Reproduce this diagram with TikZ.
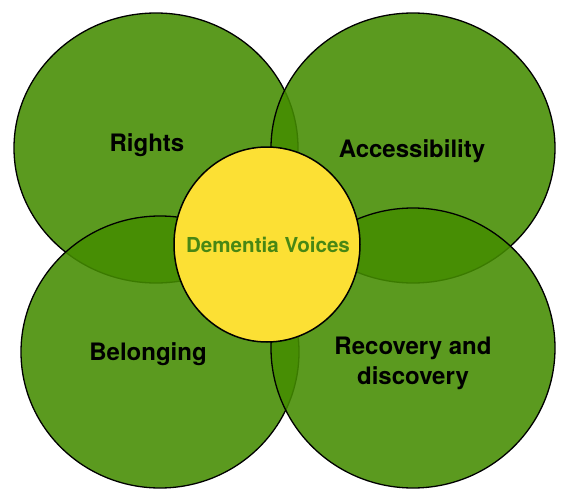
\documentclass[tikz,border=0pt]{standalone}
\usepackage{fontspec}
\setmainfont{TeX Gyre Heros}
\usetikzlibrary{shapes.geometric}
\definecolor{leaf}{RGB}{68,140,0}
\definecolor{sun}{RGB}{252,224,52}
\definecolor{voicegreen}{RGB}{72,135,20}
\tikzset{
	bigcircle/.style={ellipse, draw=black, line width=1.3pt, fill=leaf, fill opacity=.88, inner sep=0pt},
	hubcircle/.style={ellipse, draw=black, line width=1.5pt, fill=sun, inner sep=0pt},
	labeltext/.style={font=\bfseries\fontsize{24}{30}\selectfont, text=black, align=center}
}
\begin{document}
\begin{tikzpicture}[x=1pt,y=-1pt]
		\useasboundingbox (0,0) rectangle (563,490);
		
		\node[bigcircle, minimum width=284pt, minimum height=270pt] (rights) at (156,148) {};
		\node[bigcircle, minimum width=284pt, minimum height=270pt] (access) at (413,148) {};
		\node[bigcircle, minimum width=278pt, minimum height=272pt] (belong) at (160,352) {};
		\node[bigcircle, minimum width=284pt, minimum height=280pt] (recover) at (413,348) {};
		
		\node[hubcircle, minimum width=186pt, minimum height=195pt] (voices) at (267,244.5) {};
		\node[font=\bfseries\fontsize{20.6}{24}\selectfont, text=voicegreen] (voicestext) at (268,245) {Dementia Voices};
		
		\node[labeltext] (rightstext) at (147,145) {Rights};
		\node[labeltext] (accesstext) at (412,151) {Accessibility};
		\node[labeltext] (belongtext) at (148,354) {Belonging};
		\node[labeltext] (recovertext) at (413,363) {Recovery and\\discovery};
		
		\end{tikzpicture}
\end{document}
